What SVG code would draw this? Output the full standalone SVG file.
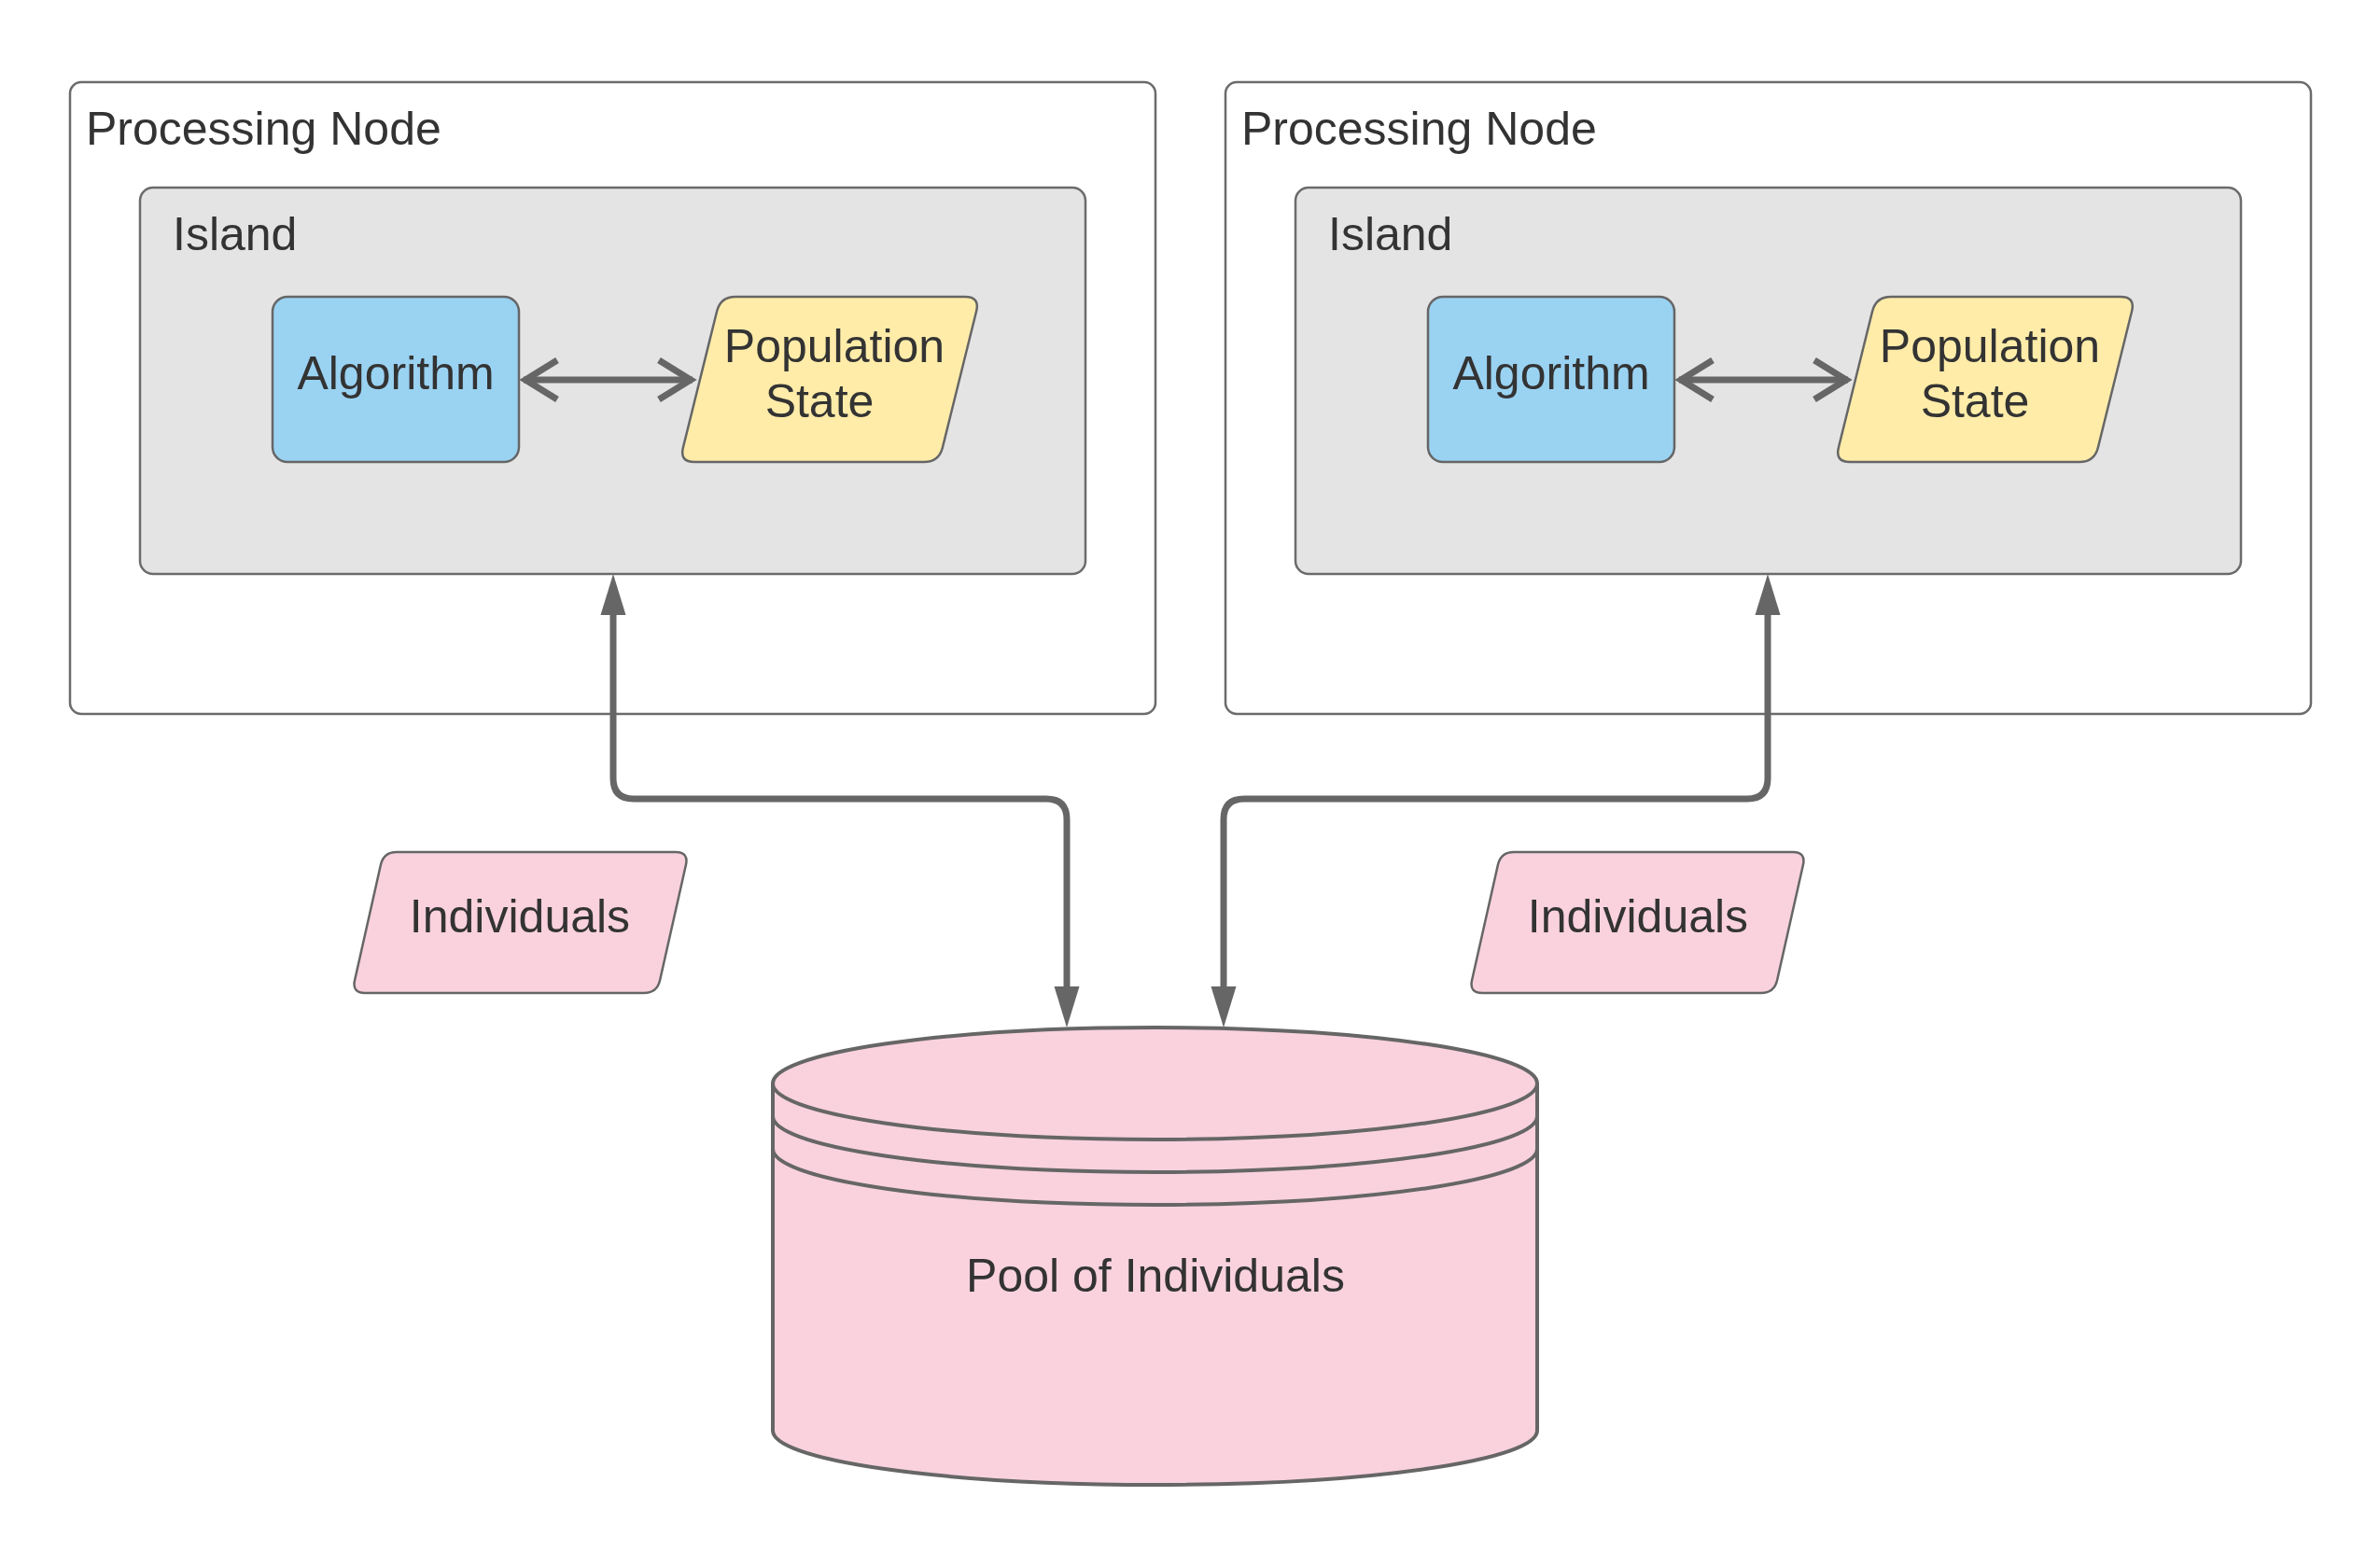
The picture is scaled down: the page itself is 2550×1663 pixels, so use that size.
<svg xmlns="http://www.w3.org/2000/svg" width="2550" height="1663" viewBox="0 0 2550 1663">
<style>
  .lbl { font-family: "Liberation Sans", Arial, sans-serif; font-size: 50px; fill: #333333; }
  .mid { text-anchor: middle; }
  .pnode { fill: #ffffff; stroke: #6b6b6b; stroke-width: 2.5; }
  .island { fill: #e4e4e4; stroke: #6b6b6b; stroke-width: 2.5; }
  .algo { fill: #9ad2f2; stroke: #666666; stroke-width: 2.5; }
  .pop { fill: #ffeca9; stroke: #666666; stroke-width: 2.5; }
  .pink { fill: #f9d2de; stroke: #666666; stroke-width: 2.5; }
  .cyl { fill: #f9d2de; stroke: #666666; stroke-width: 4; }
  .cylline { fill: none; stroke: #666666; stroke-width: 4; }
  .conn { fill: none; stroke: #666666; stroke-width: 7; }
</style>
<defs>
  <marker id="tri" markerUnits="userSpaceOnUse" markerWidth="60" markerHeight="40" viewBox="-5 -20 60 40" refX="0" refY="0" orient="auto-start-reverse" overflow="visible">
    <path d="M44,0 L0,-13.5 L0,13.5 Z" fill="#666666"/>
  </marker>
  <marker id="chev" markerUnits="userSpaceOnUse" markerWidth="60" markerHeight="60" viewBox="-50 -30 60 60" refX="0" refY="0" orient="auto-start-reverse" overflow="visible">
    <path d="M-36,-21 L-2,0 L-36,21" fill="none" stroke="#666666" stroke-width="7"/>
  </marker>
</defs>
<rect width="2550" height="1663" fill="#ffffff"/>

<g id="processing-node-1">
  <rect class="pnode" x="75" y="88" width="1163" height="677" rx="12"/>
  <text class="lbl" x="92" y="155">Processing Node</text>
</g>
<g id="island-1">
  <rect class="island" x="150" y="201" width="1013" height="414" rx="14"/>
  <text class="lbl" x="185" y="268">Island</text>
</g>
<g id="algorithm-1">
  <rect class="algo" x="292" y="318" width="264" height="177" rx="16"/>
  <text class="lbl mid" x="424" y="417">Algorithm</text>
</g>
<g id="population-state-1">
  <path class="pop" d="M788,318 L1034,318 Q1050,318 1046.1,333.5 L1009.9,479.5 Q1006,495 990,495 L744,495 Q728,495 731.9,479.5 L768.1,333.5 Q772,318 788,318 Z"/>
  <text class="lbl mid" x="894" y="388">Population</text>
  <text class="lbl mid" x="878" y="447">State</text>
</g>

<g id="processing-node-2">
  <rect class="pnode" x="1313" y="88" width="1163" height="677" rx="12"/>
  <text class="lbl" x="1330" y="155">Processing Node</text>
</g>
<g id="island-2">
  <rect class="island" x="1388" y="201" width="1013" height="414" rx="14"/>
  <text class="lbl" x="1423" y="268">Island</text>
</g>
<g id="algorithm-2">
  <rect class="algo" x="1530" y="318" width="264" height="177" rx="16"/>
  <text class="lbl mid" x="1662" y="417">Algorithm</text>
</g>
<g id="population-state-2">
  <path class="pop" d="M2026,318 L2272,318 Q2288,318 2284.1,333.5 L2247.9,479.5 Q2244,495 2228,495 L1982,495 Q1966,495 1969.9,479.5 L2006.1,333.5 Q2010,318 2026,318 Z"/>
  <text class="lbl mid" x="2132" y="388">Population</text>
  <text class="lbl mid" x="2116" y="447">State</text>
</g>

<g id="individuals-1">
  <path class="pink" d="M425,913 L724,913 Q738,913 734.9,926.7 L707.1,1050.3 Q704,1064 690,1064 L391,1064 Q377,1064 380.1,1050.3 L407.9,926.7 Q411,913 425,913 Z"/>
  <text class="lbl mid" x="557" y="999">Individuals</text>
</g>
<g id="individuals-2">
  <path class="pink" d="M1622,913 L1921,913 Q1935,913 1931.9,926.7 L1904.1,1050.3 Q1901,1064 1887,1064 L1588,1064 Q1574,1064 1577.1,1050.3 L1604.9,926.7 Q1608,913 1622,913 Z"/>
  <text class="lbl mid" x="1755" y="999">Individuals</text>
</g>

<g id="pool-of-individuals">
  <path class="cyl" d="M828,1161 L828,1533 A409.5,58 0 0 0 1647,1533 L1647,1161 A409.5,60 0 0 0 828,1161 Z"/>
  <path class="cylline" d="M828,1161 A409.5,60 0 0 0 1647,1161"/>
  <path class="cylline" d="M828,1196 A409.5,60 0 0 0 1647,1196"/>
  <path class="cylline" d="M828,1231 A409.5,60 0 0 0 1647,1231"/>
  <text class="lbl mid" x="1238" y="1384">Pool of Individuals</text>
</g>

<g id="connectors">
  <path class="conn" d="M561,407 L742,407" marker-start="url(#chev)" marker-end="url(#chev)"/>
  <path class="conn" d="M1799,407 L1980,407" marker-start="url(#chev)" marker-end="url(#chev)"/>
  <path class="conn" d="M657,659 L657,834 Q657,856 679,856 L1121,856 Q1143,856 1143,878 L1143,1057" marker-start="url(#tri)" marker-end="url(#tri)"/>
  <path class="conn" d="M1894,659 L1894,834 Q1894,856 1872,856 L1333,856 Q1311,856 1311,878 L1311,1057" marker-start="url(#tri)" marker-end="url(#tri)"/>
</g>
</svg>
